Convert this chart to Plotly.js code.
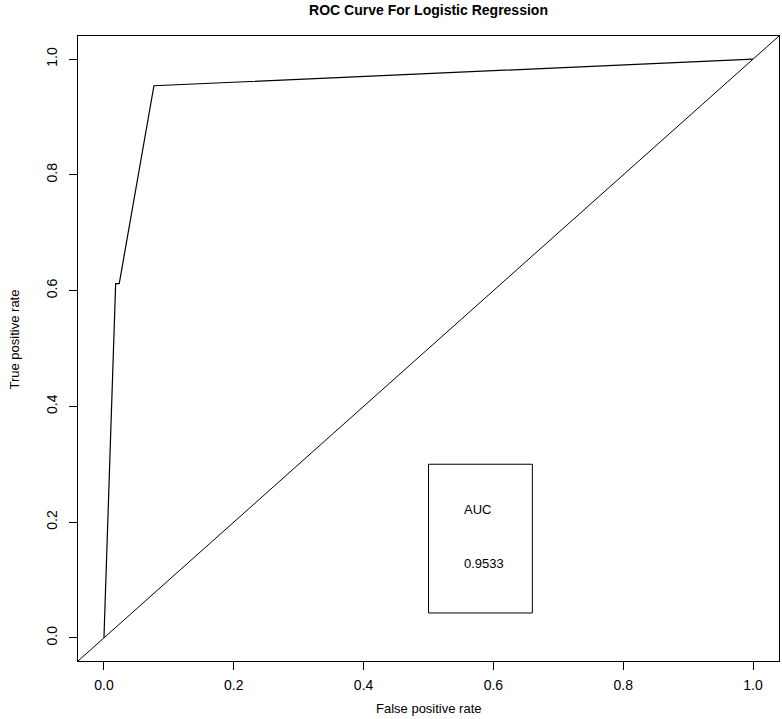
<!DOCTYPE html>
<html>
<head>
<meta charset="utf-8">
<script src="https://cdn.plot.ly/plotly-3.0.1.min.js"></script>
<style>html,body{margin:0;padding:0;background:#fff;}#chart{width:782px;height:719px;}</style>
</head>
<body>
<div id="chart"></div>
<script>
// ROC curve points
var fpr = [0, 0.018, 0.0235, 0.077, 1];
var tpr = [0, 0.612, 0.612, 0.954, 1];
// reference diagonal (abline through the whole plot)
var diagX = [-0.04, 1.04];
var diagY = [-0.04, 1.04];
var tickVals = [0, 0.2, 0.4, 0.6, 0.8, 1.0];
var tickText = ["0.0", "0.2", "0.4", "0.6", "0.8", "1.0"];
var aucLabel = "AUC";
var aucValue = "0.9533";
var xTitle = "False positive rate";
var yTitle = "True positive rate";

var font = "Liberation Sans, Arial, sans-serif";
var traces = [
  {x: fpr, y: tpr, mode: "lines", line: {color: "#000", width: 1.2}, hoverinfo: "skip"},
  {x: diagX, y: diagY, mode: "lines", line: {color: "#000", width: 1}, hoverinfo: "skip"}
];

var axisCommon = {
  range: [-0.04, 1.04], showgrid: false, zeroline: false,
  showline: true, mirror: true, linecolor: "#000", linewidth: 1,
  ticks: "outside", ticklen: 8, tickcolor: "#000", tickwidth: 1,
  tickvals: tickVals, ticktext: tickText,
  tickfont: {family: font, size: 14, color: "#000"}
};

var layout = {
  width: 782, height: 719,
  margin: {l: 78, r: 3, t: 36, b: 58},
  paper_bgcolor: "#fff", plot_bgcolor: "#fff",
  showlegend: false,
  title: {text: "<b>ROC Curve For Logistic Regression</b>", x: 0.548, xanchor: "center", y: 0.986, yanchor: "middle",
          font: {family: font, size: 14, color: "#000"}},
  xaxis: Object.assign({}, axisCommon, {ticklabelstandoff: 3}),
  yaxis: Object.assign({}, axisCommon, {tickangle: -90, ticklabelstandoff: 6}),
  shapes: [
    {type: "rect", xref: "x", yref: "y", x0: 0.5, x1: 0.66, y0: 0.043, y1: 0.3,
     line: {color: "#000", width: 1}, fillcolor: "rgba(0,0,0,0)"}
  ],
  annotations: [
    {xref: "x", yref: "y", x: 0.552, y: 0.222, text: aucLabel, showarrow: false, xanchor: "left",
     font: {family: font, size: 13, color: "#000"}},
    {xref: "x", yref: "y", x: 0.552, y: 0.128, text: aucValue, showarrow: false, xanchor: "left",
     font: {family: font, size: 13, color: "#000"}},
    {xref: "paper", yref: "paper", x: 0.5, y: 0, yanchor: "middle", yshift: -47, text: xTitle, showarrow: false,
     font: {family: font, size: 13, color: "#000"}},
    {xref: "paper", yref: "paper", x: 0, y: 0.5, xanchor: "center", xshift: -64, yshift: 9, textangle: -90, text: yTitle, showarrow: false,
     font: {family: font, size: 13, color: "#000"}}
  ]
};

Plotly.newPlot("chart", traces, layout, {displayModeBar: false, staticPlot: true});
</script>
</body>
</html>
